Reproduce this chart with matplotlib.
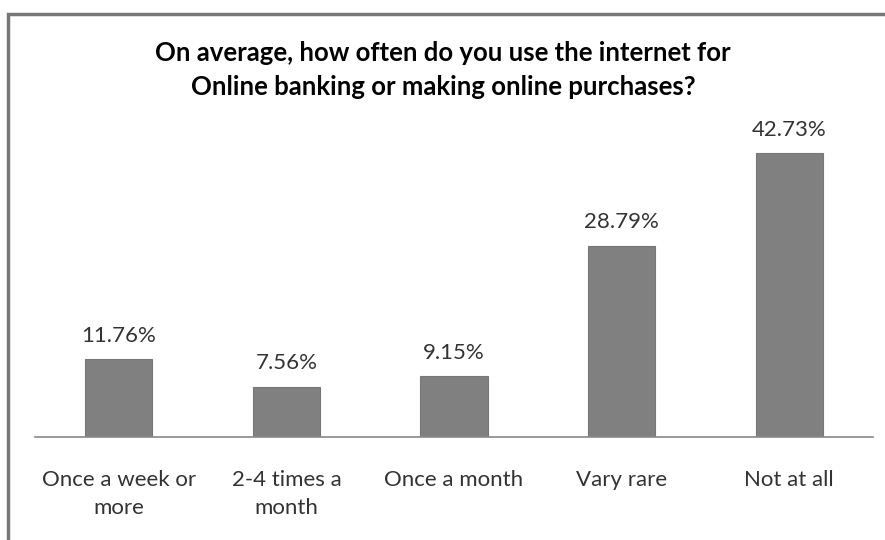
import matplotlib.pyplot as plt
from matplotlib.patches import Rectangle

categories = ['Once a week or\nmore', '2-4 times a\nmonth', 'Once a month', 'Vary rare', 'Not at all']
values = [11.76, 7.56, 9.15, 28.79, 42.73]
labels = ['11.76%', '7.56%', '9.15%', '28.79%', '42.73%']

plt.rcParams['font.family'] = ['Lato', 'DejaVu Sans']

fig = plt.figure(figsize=(8.85, 5.4), dpi=100)
ax = fig.add_axes([35 / 885, 1 - 437 / 540, 838 / 885, 299 / 540])

x = range(len(categories))
ax.bar(x, values, width=0.4, color='#808080', edgecolor='#777777', linewidth=0.8)
for i, v in enumerate(values):
    ax.text(i, v + 2.0, labels[i], ha='center', va='bottom', fontsize=16, color='#333333')

ax.set_xlim(-0.5, 4.5)
ax.set_ylim(0, 45)
ax.set_xticks(list(x))
ax.set_xticklabels(categories, fontsize=16, color='#333333', linespacing=1.45)
ax.tick_params(axis='x', length=0, pad=24)
ax.set_yticks([])
for s in ['top', 'right', 'left']:
    ax.spines[s].set_visible(False)
ax.spines['bottom'].set_color('#888888')
ax.spines['bottom'].set_linewidth(1.2)

fig.text(443 / 885, 1 - 70 / 540,
         'On average, how often do you use the internet for\nOnline banking or making online purchases?',
         ha='center', va='center', fontsize=18.5, fontweight='bold', color='#000000', linespacing=1.5)

# chart frame
fig.patches.append(Rectangle((8 / 885, -0.05), 2, 1 - 14 / 540 + 0.05, transform=fig.transFigure,
                             fill=False, edgecolor='#777777', linewidth=2.5))

fig.savefig('out.png', dpi=100)
